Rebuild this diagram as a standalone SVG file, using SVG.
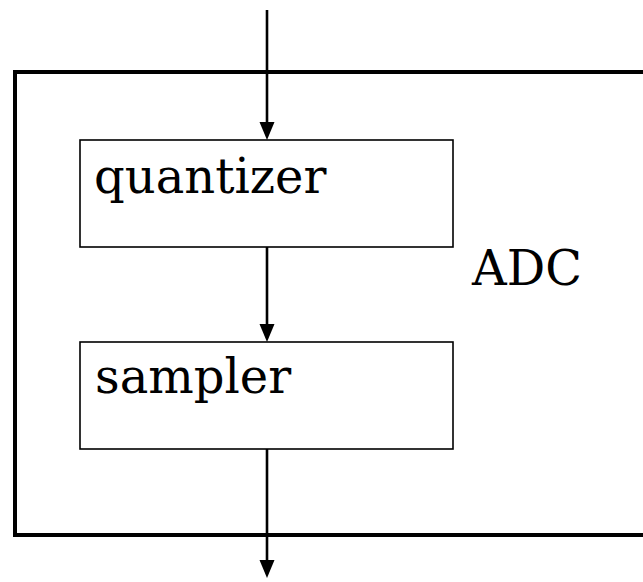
<svg xmlns="http://www.w3.org/2000/svg" width="643" height="582" viewBox="0 0 643 582">
  <style>
    .frame { fill: none; stroke: #000; stroke-width: 4; }
    .block { fill: #fff; stroke: #000; stroke-width: 1.6; }
    .wire { fill: none; stroke: #000; stroke-width: 2.6; }
    .tip { fill: #000; stroke: none; }
    .label { font-family: "DejaVu Serif", "Liberation Serif", serif; font-size: 48px; fill: #000; }
  </style>

  <!-- ADC enclosure (right side runs off the canvas) -->
  <g id="adc">
    <rect class="frame" x="15" y="72" width="640" height="463"/>
    <text class="label" x="472" y="285">ADC</text>
  </g>

  <g id="connectors">
    <line class="wire" x1="267" y1="10" x2="267" y2="126"/>
    <polygon class="tip" points="259.5,122 274.5,122 267,140"/>
    <line class="wire" x1="267" y1="247" x2="267" y2="328"/>
    <polygon class="tip" points="259.5,324 274.5,324 267,342"/>
    <line class="wire" x1="267" y1="449" x2="267" y2="564"/>
    <polygon class="tip" points="259.5,560 274.5,560 267,578"/>
  </g>

  <g id="quantizer">
    <rect class="block" x="80" y="140" width="373" height="107"/>
    <text class="label" x="94" y="193">quantizer</text>
  </g>

  <g id="sampler">
    <rect class="block" x="80" y="342" width="373" height="107"/>
    <text class="label" x="95" y="393">sampler</text>
  </g>
</svg>
